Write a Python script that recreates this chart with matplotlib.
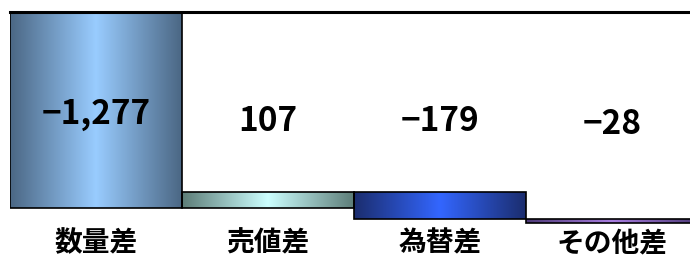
import numpy as np
import matplotlib
matplotlib.use('Agg')
import matplotlib.pyplot as plt
from matplotlib.colors import LinearSegmentedColormap

plt.rcParams['font.family'] = ['Noto Sans CJK JP', 'DejaVu Sans']

categories = ['数量差', '売値差', '為替差', 'その他差']
values = [-1277, 107, -179, -28]
value_labels = ['−1,277', '107', '−179', '−28']
# gradient colours (edge, middle) per bar
edge_colors = ['#4b6784', '#5d7d78', '#1b2d6e', '#4e3a78']
mid_colors = ['#99ccff', '#ccffff', '#3366ff', '#a87ee0']
label_y = [-670, -715, -715, -735]

x = np.arange(len(categories))
bottoms = np.concatenate([[0], np.cumsum(values)[:-1]])

fig = plt.figure(figsize=(6.9, 2.56), dpi=100)
ax = fig.add_axes([10 / 690, 1 - 230 / 256, 680 / 690, 218 / 256])

bars = ax.bar(x, values, bottom=bottoms, width=1.0, facecolor='none',
              edgecolor='black', linewidth=1.2, zorder=3)

grad = np.linspace(0, 1, 256).reshape(1, -1)
for bar, ce, cm in zip(bars, edge_colors, mid_colors):
    cmap = LinearSegmentedColormap.from_list('g', [ce, cm, ce])
    x0, y0 = bar.get_x(), bar.get_y()
    w, h = bar.get_width(), bar.get_height()
    img = ax.imshow(grad, cmap=cmap, aspect='auto',
                    extent=[x0, x0 + w, min(y0, y0 + h), max(y0, y0 + h)],
                    zorder=2, interpolation='bicubic')
    img.set_clip_path(bar)

for xi, yl, txt in zip(x, label_y, value_labels):
    ax.text(xi, yl, txt, ha='center', va='center', fontsize=24,
            fontweight='bold', zorder=4)

for xi, cat in zip(x, categories):
    ax.text(xi, -0.06, cat, transform=ax.get_xaxis_transform(),
            ha='center', va='center', fontsize=20, fontweight='bold')

ax.set_xlim(-0.5, -0.5 + 680 / 172)
ax.set_ylim(-1420, 0)
for s in ['left', 'right', 'bottom']:
    ax.spines[s].set_visible(False)
ax.spines['top'].set_linewidth(2.2)
ax.set_xticks([])
ax.set_yticks([])

fig.savefig('out.png', dpi=100)
